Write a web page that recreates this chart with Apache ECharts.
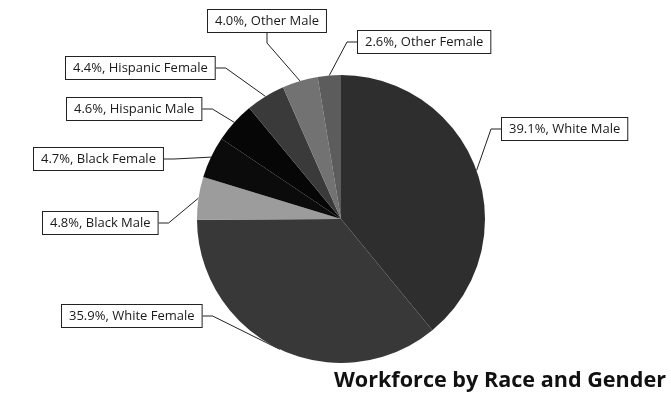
<!DOCTYPE html>
<html>
<head>
<meta charset="utf-8">
<script src="https://cdn.jsdelivr.net/npm/echarts@6/dist/echarts.min.js"></script>
<style>
  html, body { margin: 0; padding: 0; background: #fff; }
  #chart { width: 671px; height: 401px; }
</style>
</head>
<body>
<div id="chart"></div>
<script>
// Workforce shares, in drawing order (clockwise from 12 o'clock)
const groups = ['White Male', 'White Female', 'Black Male', 'Black Female',
                'Hispanic Male', 'Hispanic Female', 'Other Male', 'Other Female'];
const shares = [39.1, 35.9, 4.8, 4.7, 4.6, 4.4, 4.0, 2.6];

// Slice fills (greyscale)
const fills = ['#2e2e2e', '#383838', '#9c9c9c', '#0b0b0b',
               '#060606', '#3a3a3a', '#727272', '#5c5c5c'];
// Top-left corner of each callout box
const calloutPos = [[502, 118], [62, 305], [43, 212], [34, 148],
                    [67, 98], [66, 57], [208, 10], [358, 31]];

const chart = echarts.init(document.getElementById('chart'), null, { renderer: 'canvas' });

chart.setOption({
  backgroundColor: '#ffffff',
  animation: false,
  title: {
    text: 'Workforce by Race and Gender',
    right: 0,
    bottom: 4,
    textStyle: { fontFamily: 'Open Sans', fontWeight: 'bold', fontSize: 21.6, color: '#111' }
  },
  series: [{
    type: 'pie',
    center: [341, 219],
    radius: 144,
    startAngle: 90,
    clockwise: true,
    avoidLabelOverlap: false,
    data: groups.map((g, i) => ({
      name: g,
      value: shares[i],
      itemStyle: { color: fills[i] }
    })),
    itemStyle: { borderWidth: 0 },
    label: {
      show: true,
      formatter: p => p.value.toFixed(1) + '%, ' + p.name,
      fontFamily: 'Open Sans',
      fontSize: 13,
      color: '#1a1a1a',
      backgroundColor: '#ffffff',
      borderColor: '#222',
      borderWidth: 1,
      padding: [5, 7, 4, 7]
    },
    labelLine: {
      show: true,
      length: 10,
      length2: 10,
      lineStyle: { color: '#222', width: 1 }
    },
    labelLayout: params => ({
      x: calloutPos[params.dataIndex][0],
      y: calloutPos[params.dataIndex][1],
      align: 'left',
      verticalAlign: 'top'
    })
  }]
});
</script>
</body>
</html>
